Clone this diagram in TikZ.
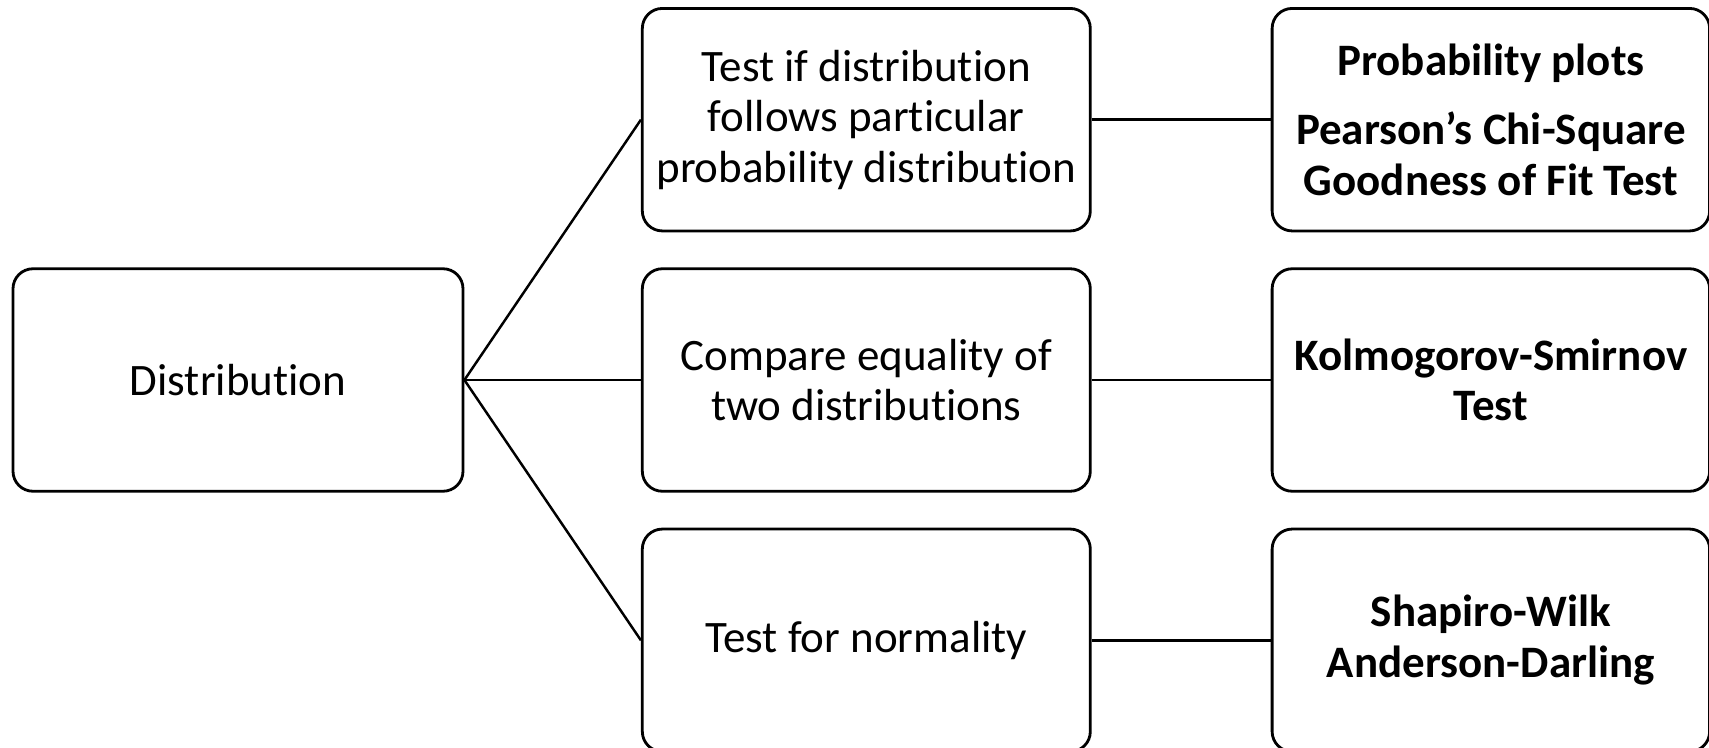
\documentclass[tikz,border=0pt]{standalone}
\usepackage{fontspec}
\setmainfont{Carlito}[RawFeature=-liga]
\usetikzlibrary{positioning}

\tikzset{
    box/.style={draw, rounded corners=0.4cm, line width=1.6pt, minimum height=4.45cm, align=center,
        font=\fontsize{25.6pt}{28.8pt}\selectfont},
    link/.style={line width=1.4pt}
}

\begin{document}
\begin{tikzpicture}
            \useasboundingbox (0,0) rectangle (34.18,-14.96);
            % Nodes
            \node[box, minimum width=9cm] (distribution) at (4.76,-7.6) {Distribution};
            \node[box, minimum width=8.96cm, right=3.53cm of distribution] (compare_equality) {Compare equality of\\two distributions};
            \node[box, minimum width=8.96cm, above=0.7cm of compare_equality] (test_fit) {Test if distribution\\follows particular\\probability distribution};
            \node[box, minimum width=8.96cm, below=0.7cm of compare_equality] (test_normality) {Test for normality};
            \node[box, minimum width=8.75cm, right=3.58cm of test_fit, font=\fontsize{25.6pt}{28.8pt}\selectfont\bfseries] (fit_methods) {Probability plots\\[10.5pt]Pearson’s Chi-Square\\Goodness of Fit Test};
            \node[box, minimum width=8.75cm, right=3.58cm of compare_equality, font=\fontsize{25.6pt}{28.8pt}\selectfont\bfseries] (ks_test) {Kolmogorov-Smirnov\\Test};
            \node[box, minimum width=8.75cm, right=3.58cm of test_normality, font=\fontsize{25.6pt}{28.8pt}\selectfont\bfseries] (normality_tests) {Shapiro-Wilk\\Anderson-Darling};

            % Lines
            \draw[link] (distribution.east) -- (test_fit.west);
            \draw[link] (distribution.east) -- (compare_equality.west);
            \draw[link] (distribution.east) -- (test_normality.west);
            \draw[link] (test_fit) -- (fit_methods);
            \draw[link] (compare_equality) -- (ks_test);
            \draw[link] (test_normality) -- (normality_tests);
        \end{tikzpicture}
\end{document}
